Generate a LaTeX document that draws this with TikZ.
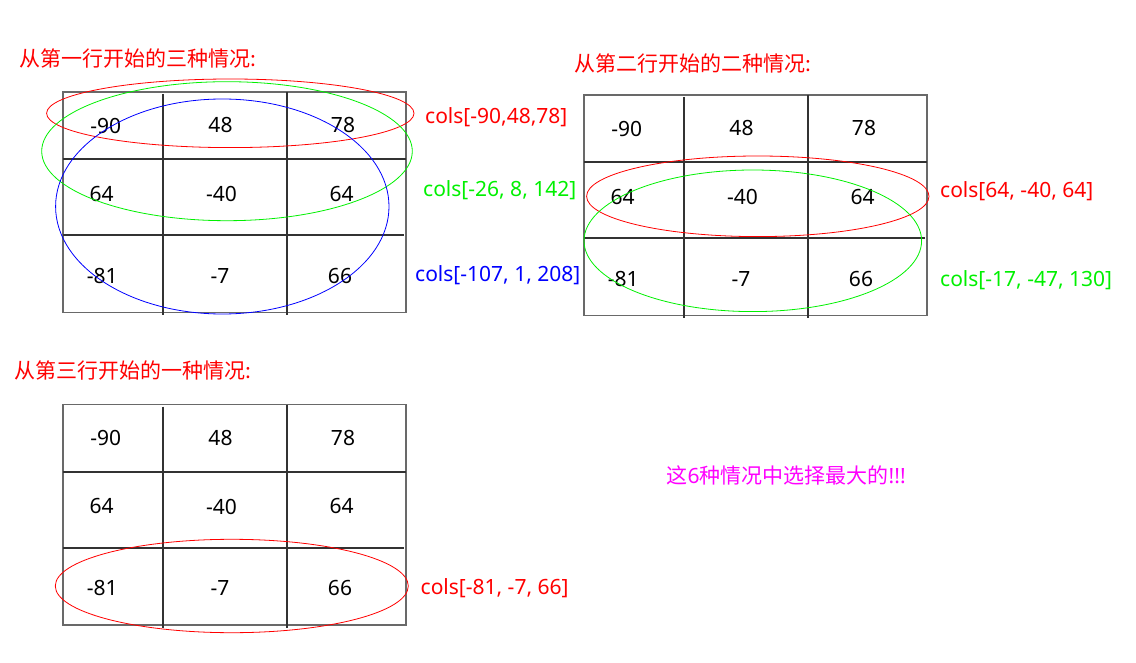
\documentclass[tikz,border=0pt]{standalone}
\usepackage{fontspec}
\setmainfont{Noto Sans}
\newfontfamily\cjk{Noto Sans CJK SC}
\definecolor{pred}{RGB}{255,0,0}
\definecolor{pgreen}{RGB}{0,240,0}
\definecolor{pblue}{RGB}{0,0,255}
\definecolor{pmag}{RGB}{255,0,255}
\definecolor{framegray}{RGB}{105,105,105}
\definecolor{innergray}{RGB}{50,50,50}
\tikzset{
  cell/.style={font=\fontsize{21}{25}\selectfont, inner sep=0pt, text=black},
  lab/.style={font=\fontsize{21}{25}\selectfont, inner sep=0pt, anchor=west},
  ttl/.style={font=\cjk\fontsize{21}{25}\selectfont, inner sep=0pt, anchor=west},
  gridframe/.style={draw=framegray, line width=1.6pt},
  gridinner/.style={draw=innergray, line width=2pt},
  ring/.style={line width=0.8pt},
}
\newcommand\mygrid[3]{%
  \begin{scope}[shift={(#2,#3)}]
    \draw[gridframe] (0,0) rectangle (343,220.5);
    \draw[gridinner] (0,67) -- (343,67);
    \draw[gridinner] (0,143) -- (340.5,143);
    \draw[gridinner] (99.5,2) -- (99.5,223);
    \draw[gridinner] (223.5,0) -- (223.5,223);
    \node[cell] (#1-11) at (42.7,33.5) {-90};
    \node[cell] (#1-12) at (157.5,33.5) {48};
    \node[cell] (#1-13) at (280,33.5) {78};
    \node[cell] (#1-21) at (38.7,102) {64};
    \node[cell] (#1-22) at (158.5,102) {-40};
    \node[cell] (#1-23) at (278.7,102) {64};
    \node[cell] (#1-31) at (39.3,184) {-81};
    \node[cell] (#1-32) at (157,184) {-7};
    \node[cell] (#1-33) at (277,184) {66};
  \end{scope}}
\begin{document}
\begin{tikzpicture}[x=1pt,y=-1pt]
\useasboundingbox (0,0) rectangle (1136,663);
% titles
\node[ttl, text=pred] (t1) at (19,59) {从第一行开始的三种情况:};
\node[ttl, text=pred] (t2) at (574,64) {从第二行开始的二种情况:};
\node[ttl, text=pred] (t3) at (14,371) {从第三行开始的一种情况:};
\node[lab, text=pmag] (tm) at (666.5,475) {{\cjk 这}6{\cjk 种情况中选择最大的}!!!};
% grids
\mygrid{ga}{63}{92}
\mygrid{gb}{584}{95}
\mygrid{gc}{63}{404.5}
% grid 1 ellipses
\draw[ring, pred] (230.3,113.3) ellipse [x radius=183.7, y radius=34.3];
\draw[ring, pgreen] (227,151.2) ellipse [x radius=185.3, y radius=69.5];
\draw[ring, pblue] (222.3,206.5) ellipse [x radius=166.7, y radius=107.5];
\node[lab, text=pred] (la) at (425,117) {cols[-90,48,78]};
\node[lab, text=pgreen] (lb) at (423,190) {cols[-26, 8, 142]};
\node[lab, text=pblue] (lc) at (415,275) {cols[-107, 1, 208]};
% grid 2 ellipses
\draw[ring, pred] (757.8,196.3) ellipse [x radius=171.2, y radius=40.3];
\draw[ring, pgreen] (752.8,240.8) ellipse [x radius=168.8, y radius=70.8];
\node[lab, text=pred] (ld) at (940,191) {cols[64, -40, 64]};
\node[lab, text=pgreen] (le) at (940,280) {cols[-17, -47, 130]};
% grid 3 ellipse
\draw[ring, pred] (231.8,586) ellipse [x radius=176.5, y radius=46.7];
\node[lab, text=pred] (lf) at (420.5,588) {cols[-81, -7, 66]};
\end{tikzpicture}
\end{document}
